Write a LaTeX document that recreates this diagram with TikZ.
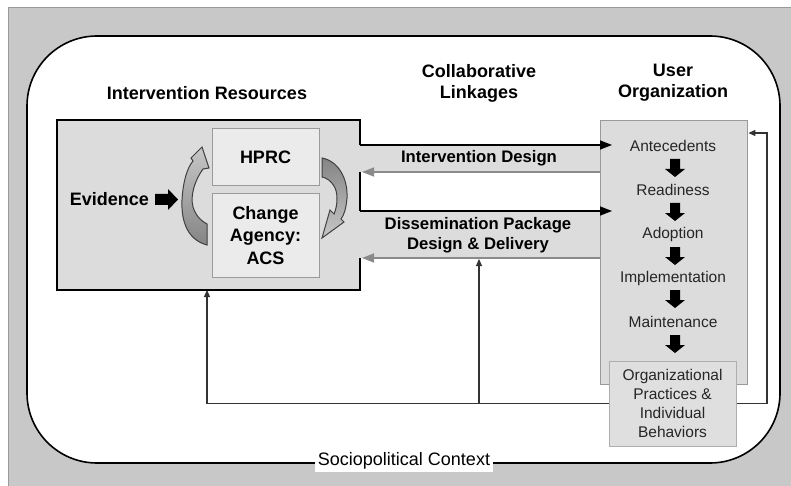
\documentclass[tikz,border=0pt]{standalone}
\usepackage{fontspec}
\setmainfont{Liberation Sans}
\usetikzlibrary{arrows.meta,calc}
\definecolor{bggray}{HTML}{C8C8C8}
\definecolor{boxgray}{HTML}{DCDCDC}
\definecolor{lightbox}{HTML}{EBEBEB}
\definecolor{edgegray}{HTML}{9A9A9A}
\definecolor{arrgray}{HTML}{8A8A8A}
\definecolor{fbline}{HTML}{333333}
\begin{document}
\begin{tikzpicture}[x=1pt,y=-1pt,
  hdr/.style={font=\fontsize{18}{21}\selectfont\bfseries, align=center, inner sep=0pt},
  lnk/.style={font=\fontsize{16.7}{20}\selectfont\bfseries, align=center, inner sep=0pt},
  stage/.style={font=\fontsize{15.5}{18}\selectfont, inner sep=0pt, text=black!85},
  agentbox/.style={draw=edgegray, fill=lightbox, line width=1pt, minimum width=107pt,
     font=\fontsize{18}{22}\selectfont\bfseries, align=center, inner sep=0pt},
  blackarr/.style={line width=1.6pt, -{Triangle[length=12pt,width=9pt]}},
  grayarr/.style={draw=arrgray, line width=1.5pt, -{Triangle[length=12pt,width=9pt]}},
  fb/.style={draw=fbline, line width=1.1pt},
  fbarr/.style={fb, -{Triangle[length=7pt,width=6pt]}},
  darr/.pic={\fill[black] (-5,0) -- (5,0) -- (5,10) -- (10,10) -- (0,18) -- (-10,10) -- (-5,10) -- cycle;},
  curv/.style={draw=black!75, line width=1pt}
]
\useasboundingbox (0,0) rectangle (791,486);
% outer background
\fill[bggray] (8,8) rectangle (791,486);
\draw[edgegray, line width=1pt] (8,486) -- (8,8) -- (791,8);
% context frame
\draw[line width=1.6pt, fill=white, rounded corners=70pt] (27,36) rectangle (780,463);
\node[fill=white, font=\fontsize{18}{21}\selectfont, inner sep=3pt] (ctx) at (404,461) {Sociopolitical Context};

% headers
\node[hdr] (hir) at (207,93) {Intervention Resources};
\node[hdr] (hcl) at (479,83) {Collaborative\\Linkages};
\node[hdr] (huo) at (673,83) {User\\Organization};

% filled composite region
\fill[boxgray] (57,120) -- (360,120) -- (360,145) -- (600,145) -- (600,172) -- (360,172)
  -- (360,211) -- (600,211) -- (600,258) -- (360,258) -- (360,290) -- (57,290) -- cycle;
\node[draw=edgegray, fill=boxgray, line width=1.4pt, minimum width=147pt, minimum height=264pt,
      anchor=north west, inner sep=0pt] (uo) at (600,120) {};
\node[minimum width=303pt, minimum height=170pt, inner sep=0pt] (ir) at (208.5,205) {};
% black outline of intervention resources box
\draw[line width=1.6pt] (360,145) -- (360,120) -- (57,120) -- (57,290) -- (360,290) -- (360,258);
\draw[line width=1.6pt] (360,172) -- (360,211);

% linkage arrows
\coordinate (id1) at (360,145);
\coordinate (dp1) at (360,211);
\draw[blackarr] (id1) -- (id1 -| uo.west) -- ++(12,0);
\draw[blackarr] (dp1) -- (dp1 -| uo.west) -- ++(12,0);
\coordinate (id2) at (600,172);
\coordinate (dp2) at (600,258);
\draw[grayarr] (id2) -- (362,172);
\draw[grayarr] (dp2) -- (362,258);
\node[lnk] (idl) at (479,158) {Intervention Design};
\node[lnk, font=\fontsize{16.7}{20.5}\selectfont\bfseries] (dpl) at (478,235) {Dissemination Package\\Design \& Delivery};

% HPRC and change agency
\node[agentbox, minimum height=57pt] (hprc) at (265.5,157.5) {HPRC};
\node[agentbox, minimum height=83pt, font=\fontsize{18}{22.5}\selectfont\bfseries] (acs) at (265.5,235.5) {Change\\Agency:\\ACS};

% evidence
\node[font=\fontsize{18}{21}\selectfont\bfseries, inner sep=0pt, anchor=east] (ev) at (149,199) {Evidence};
\fill[black] (155,194) -- (168,194) -- (168,189) -- (178,199.5) -- (168,210) -- (168,205) -- (155,205) -- cycle;

% curved cycle arrows
\shadedraw[curv, top color=black!22, bottom color=black!48]
  (207,245) .. controls (188,240) and (181,222) .. (182,200)
  .. controls (183,182) and (187,168) .. (193,161) -- (191,158) -- (202,147) -- (209,168) -- (203,169)
  .. controls (195,180) and (190,195) .. (193,207)
  .. controls (196,216) and (201,221) .. (207,224) -- cycle;
\shadedraw[curv, top color=black!48, bottom color=black!22]
  (322,158) .. controls (338,161) and (348,178) .. (347,198)
  .. controls (346,209) and (344,215) .. (341,219) -- (344,222) -- (322,238) -- (330,210) -- (334,214)
  .. controls (338,205) and (338,192) .. (334,186)
  .. controls (331,181) and (327,178) .. (322,177) -- cycle;

% user organization stages
\node[stage] (s1) at (673,146) {Antecedents};
\node[stage] (s2) at (673,190) {Readiness};
\node[stage] (s3) at (673,234) {Adoption};
\node[stage] (s4) at (673,278) {Implementation};
\node[stage] (s5) at (673,322) {Maintenance};
\pic at (675,159) {darr};
\pic at (675,203) {darr};
\pic at (675,247) {darr};
\pic at (675,290) {darr};
\pic at (675,335) {darr};
\node[draw=edgegray!80, fill=boxgray!90!white, line width=1pt, minimum width=127pt, minimum height=85pt,
      font=\fontsize{15.5}{19.2}\selectfont, text=black!85, align=center, inner sep=0pt] (op) at (672.5,403.5)
      {Organizational\\Practices \&\\Individual\\Behaviors};

% feedback loops
\coordinate (fbl) at (207,290);
\coordinate (fbj) at (479,403.5);
\coordinate (fbm) at (479,259);
\coordinate (fbr) at (767,133);
\draw[fbarr] (op.west) -| (fbl);
\draw[fbarr] (fbj) -- (fbm);
\draw[fbarr] (op.east) -| (fbr) -- (fbr -| uo.east);
\end{tikzpicture}
\end{document}
